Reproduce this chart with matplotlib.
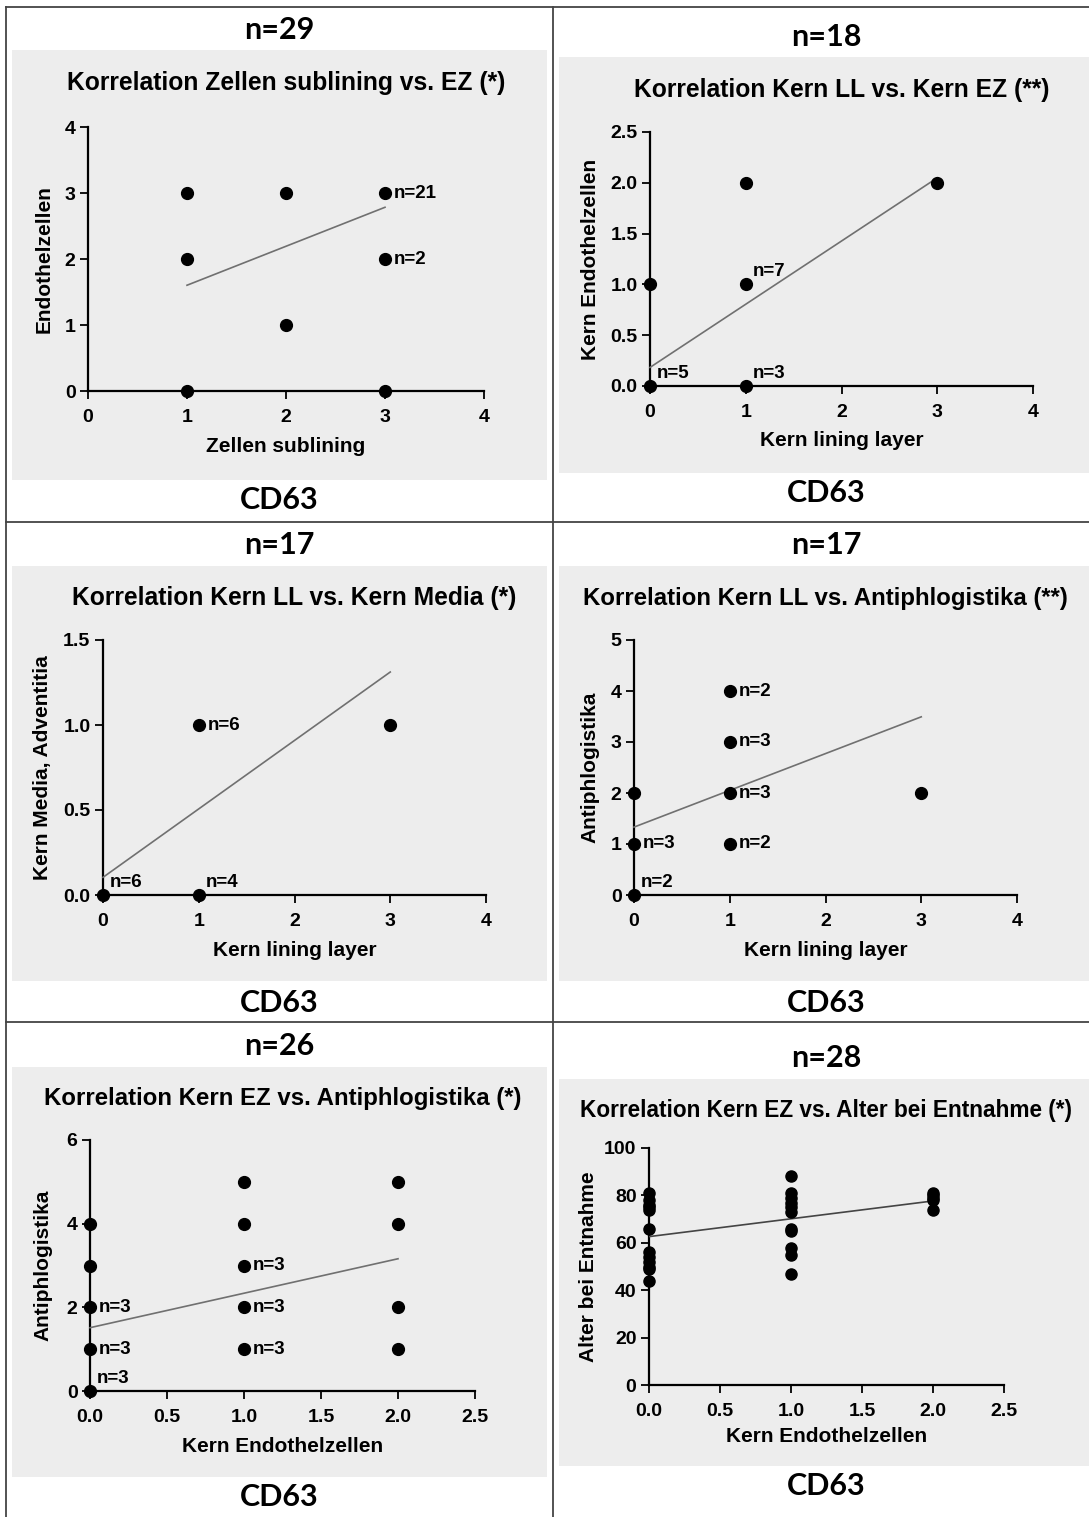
import numpy as np
import matplotlib
matplotlib.use("Agg")
import matplotlib.pyplot as plt
from matplotlib.lines import Line2D
from matplotlib.patches import Rectangle
from matplotlib.ticker import FormatStrFormatter

plt.rcParams["font.family"] = ["Liberation Sans", "DejaVu Sans"]
plt.rcParams["font.weight"] = "bold"
plt.rcParams["axes.labelweight"] = "bold"

W, H = 1089, 1517

# --- data -------------------------------------------------------------
# panel 1: Zellen sublining vs. Endothelzellen (n=29)
p1_x = [1, 2, 3, 1, 3, 2, 1, 3]
p1_y = [3, 3, 3, 2, 2, 1, 0, 0]
p1_n = [1, 1, 21, 1, 2, 1, 1, 1]

# panel 2: Kern lining layer vs. Kern Endothelzellen (n=18)
p2_x = [0, 0, 1, 1, 1, 3]
p2_y = [0, 1, 0, 1, 2, 2]
p2_n = [5, 1, 3, 7, 1, 1]

# panel 3: Kern lining layer vs. Kern Media, Adventitia (n=17)
p3_x = [0, 1, 1, 3]
p3_y = [0, 0, 1, 1]
p3_n = [6, 4, 6, 1]

# panel 4: Kern lining layer vs. Antiphlogistika (n=17)
p4_x = [0, 0, 0, 1, 1, 1, 1, 3]
p4_y = [0, 1, 2, 1, 2, 3, 4, 2]
p4_n = [2, 3, 1, 2, 3, 3, 2, 1]

# panel 5: Kern Endothelzellen vs. Antiphlogistika (n=26)
p5_x = [0, 0, 0, 0, 0, 1, 1, 1, 1, 1, 2, 2, 2, 2]
p5_y = [0, 1, 2, 3, 4, 1, 2, 3, 4, 5, 1, 2, 4, 5]
p5_n = [3, 3, 3, 1, 1, 3, 3, 3, 1, 1, 1, 1, 1, 1]

# panel 6: Kern Endothelzellen vs. Alter bei Entnahme (n=28)
p6_groups = [0, 1, 2]
p6_age0 = [81, 78, 76, 75, 74, 66, 56, 54, 52, 50, 49, 44]
p6_age1 = [88, 81, 79, 77, 75, 73, 66, 65, 58, 55, 47]
p6_age2 = [81, 80, 79, 78, 74]

headers = ["n=29", "n=18", "n=17", "n=17", "n=26", "n=28"]
footer = "CD63"

# --- figure -----------------------------------------------------------
fig = plt.figure(figsize=(W / 100, H / 100), dpi=100)
fig.patch.set_facecolor("white")


def fx(px):
    return px / W


def fy(py):
    return 1 - py / H


# grey backgrounds of the six chart images
grey = [(12, 547, 50, 480), (559, 1089, 57, 473),
        (12, 547, 566, 981), (559, 1089, 566, 981),
        (12, 547, 1067, 1477), (559, 1089, 1079, 1466)]
for x0, x1, y0, y1 in grey:
    fig.patches.append(Rectangle((fx(x0), fy(y1)), fx(x1 - x0), (y1 - y0) / H,
                                 transform=fig.transFigure, facecolor="#ededed",
                                 edgecolor="none", zorder=-2))

# table grid
tcol = "#444444"
for line in [((6, 1089), (7, 7)), ((6, 1089), (522, 522)), ((6, 1089), (1022, 1022)),
             ((6, 6), (7, 1517)), ((553, 553), (7, 1517))]:
    fig.lines.append(Line2D([fx(v) for v in line[0]], [fy(v) for v in line[1]],
                            transform=fig.transFigure, color=tcol, lw=1.3, zorder=-1))

# header / footer text
head_pos = [(279, 30), (826, 37), (279, 545), (826, 545), (279, 1046), (826, 1058)]
foot_pos = [(279, 500), (826, 493), (279, 1003), (826, 1003), (279, 1497), (826, 1486)]
for t, (x, y) in zip(headers, head_pos):
    fig.text(fx(x), fy(y), t, ha="center", va="center", family="Lato",
             fontsize=22, fontweight="bold")
for x, y in foot_pos:
    fig.text(fx(x), fy(y), footer, ha="center", va="center", family="Lato",
             fontsize=22, fontweight="bold")


def make_axes(x0, x1, ytop, ybot, title, tpy, xlabel, xlpy, ylabel, ylpx,
              xlim, ylim, xticks, yticks, xfmt=None, yfmt=None, tsize=17.7):
    ax = fig.add_axes([fx(x0), fy(ybot), (x1 - x0) / W, (ybot - ytop) / H])
    ax.patch.set_alpha(0)
    ax.set_xlim(*xlim)
    ax.set_ylim(*ylim)
    ax.set_xticks(xticks)
    ax.set_yticks(yticks)
    if xfmt:
        ax.xaxis.set_major_formatter(FormatStrFormatter(xfmt))
    if yfmt:
        ax.yaxis.set_major_formatter(FormatStrFormatter(yfmt))
    for s in ["top", "right"]:
        ax.spines[s].set_visible(False)
    for s in ["left", "bottom"]:
        ax.spines[s].set_linewidth(1.6)
    ax.tick_params(direction="out", length=6, width=1.3, labelsize=14)
    ax.tick_params(axis="x", pad=7)
    ax.tick_params(axis="y", pad=3)
    ax.set_title(title, y=(ybot - tpy) / (ybot - ytop), va="center", pad=0,
                 fontsize=tsize, fontweight="bold")
    ax.set_xlabel(xlabel, fontsize=15, va="center", fontweight="bold")
    ax.xaxis.set_label_coords(0.5, (ybot - xlpy) / (ybot - ytop))
    ax.set_ylabel(ylabel, fontsize=15, va="center", ha="center", fontweight="bold")
    ax.yaxis.set_label_coords((ylpx - x0) / (x1 - x0), 0.5)
    return ax


def scatter_counts(ax, xs, ys, ns, above=()):
    ax.plot(xs, ys, "o", color="black", ms=8.5, clip_on=False, zorder=4)
    xr = np.repeat(xs, ns)
    yr = np.repeat(ys, ns)
    k, d = np.polyfit(xr, yr, 1)
    xl = np.array([min(xs), max(xs)])
    ax.plot(xl, k * xl + d, color="#707070", lw=1.2, zorder=3, clip_on=False)
    for x, y, n in zip(xs, ys, ns):
        if n < 2:
            continue
        off = (5, 9) if (x, y) in above else (6.5, 0)
        ax.annotate("n=%d" % n, (x, y), xytext=off, textcoords="offset points",
                    ha="left", va="center", fontsize=13.5, fontweight="bold")


ax1 = make_axes(88, 484, 127, 391, "Korrelation Zellen sublining vs. EZ (*)", 83,
                "Zellen sublining", 447, "Endothelzellen", 44,
                (0, 4), (0, 4), range(5), range(5))
scatter_counts(ax1, p1_x, p1_y, p1_n)

ax2 = make_axes(650, 1033, 132, 386, "Korrelation Kern LL vs. Kern EZ (**)", 90,
                "Kern lining layer", 441, "Kern Endothelzellen", 591,
                (0, 4), (0, 2.5), range(5), np.arange(0, 2.6, 0.5), yfmt="%.1f")
scatter_counts(ax2, p2_x, p2_y, p2_n, above=[(0, 0), (1, 0), (1, 1)])

ax3 = make_axes(103, 486, 640, 895, "Korrelation Kern LL vs. Kern Media (*)", 598,
                "Kern lining layer", 950, "Kern Media, Adventitia", 43,
                (0, 4), (0, 1.5), range(5), np.arange(0, 1.6, 0.5), yfmt="%.1f")
scatter_counts(ax3, p3_x, p3_y, p3_n, above=[(0, 0), (1, 0)])

ax4 = make_axes(634, 1017, 640, 895, "Korrelation Kern LL vs. Antiphlogistika (**)", 598,
                "Kern lining layer", 950, "Antiphlogistika", 590,
                (0, 4), (0, 5), range(5), range(6), tsize=17.3)
scatter_counts(ax4, p4_x, p4_y, p4_n, above=[(0, 0)])

ax5 = make_axes(90, 475, 1140, 1391, "Korrelation Kern EZ vs. Antiphlogistika (*)", 1099,
                "Kern Endothelzellen", 1446, "Antiphlogistika", 43,
                (0, 2.5), (0, 6), np.arange(0, 2.6, 0.5), range(0, 7, 2), xfmt="%.1f",
                tsize=17.3)
scatter_counts(ax5, p5_x, p5_y, p5_n, above=[(0, 0)])

ax6 = make_axes(649, 1004, 1148, 1385, "Korrelation Kern EZ vs. Alter bei Entnahme (*)", 1110,
                "Kern Endothelzellen", 1436, "Alter bei Entnahme", 588,
                (0, 2.5), (0, 100), np.arange(0, 2.6, 0.5), range(0, 101, 20),
                xfmt="%.1f", tsize=16.3)
ages = [p6_age0, p6_age1, p6_age2]
gx = np.concatenate([[g] * len(a) for g, a in zip(p6_groups, ages)])
gy = np.concatenate(ages)
ax6.plot(gx, gy, "o", color="black", ms=8, clip_on=False, zorder=4)
k6, d6 = np.polyfit(gx, gy, 1)
xl6 = np.array([gx.min(), gx.max()])
ax6.plot(xl6, k6 * xl6 + d6, color="#444444", lw=1.2, zorder=3)

fig.savefig("out.png", dpi=100)
